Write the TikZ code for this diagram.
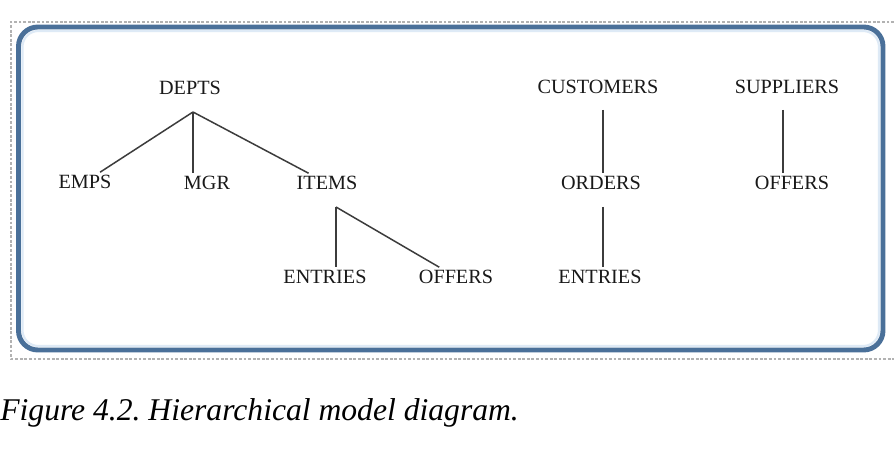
\documentclass[tikz,border=0pt]{standalone}
\usepackage{fontspec}
\setmainfont{Liberation Serif}
\usepackage{tikz}
\usetikzlibrary{calc}
\definecolor{boxblue}{RGB}{74,112,153}
\definecolor{glowblue}{RGB}{222,234,246}
\definecolor{linegray}{RGB}{60,60,60}
\frenchspacing

\begin{document}
\begin{tikzpicture}[x=0.02cm,y=-0.02cm,
    lbl/.style={inner sep=1.5pt,text=black!90,font=\fontsize{11.5}{13}\selectfont},
    link/.style={draw=linegray,line width=0.85pt}]
            \useasboundingbox[fill=white] (0,0) rectangle (894,452);
            \draw[gray!60,line width=0.6pt,dash pattern=on 1.6pt off 1pt] (894,22) --(11,22) --(11,359) --(894,359);
            \draw[glowblue,line width=1.2pt,rounded corners=9pt] (22.5,31) rectangle (879,346);
            \draw[boxblue,line width=2.8pt,rounded corners=11pt] (18.5,27) rectangle (883,350);
            % departments tree
            \node[lbl] (depts) at (190,88) {DEPTS};
            \node[lbl] (emps) at (85,182) {EMPS};
            \node[lbl] (mgr) at (207,183) {MGR};
            \node[lbl] (items) at (327,183) {ITEMS};
            \node[lbl] (entriesA) at (325,277) {ENTRIES};
            \node[lbl] (offersA) at (456,277) {OFFERS};
            \coordinate (dj) at (193,112);
            \coordinate (ij) at (336,207);
            \draw[link] (dj) --(emps);
            \draw[link] (dj) --(dj |- mgr.north);
            \draw[link] (dj) --(items);
            \draw[link] (ij) --(ij |- entriesA.north);
            \draw[link] (ij) --(offersA);
            % customers tree
            \node[lbl] (customers) at (598,87) {CUSTOMERS};
            \node[lbl] (orders) at (601,183) {ORDERS};
            \node[lbl] (entriesB) at (600,277) {ENTRIES};
            \coordinate (cj) at (603,110);
            \coordinate (oj) at (603,207);
            \draw[link] (cj) --(cj |- orders.north);
            \draw[link] (oj) --(oj |- entriesB.north);
            % suppliers tree
            \node[lbl] (suppliers) at (787,87) {SUPPLIERS};
            \node[lbl] (offersB) at (792,183) {OFFERS};
            \coordinate (sj) at (783,110);
            \draw[link] (sj) --(sj |- offersB.north);
            \node[anchor=base west,inner sep=0pt,font=\fontsize{18}{21}\selectfont\itshape] (caption) at (0,421) {Figure 4.2. Hierarchical model diagram.};
        \end{tikzpicture}
\end{document}
